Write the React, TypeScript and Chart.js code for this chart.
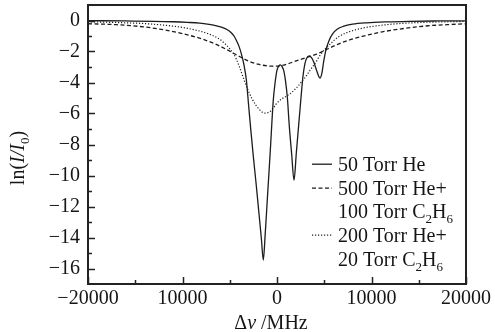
import React, { useEffect, useRef } from "react";
import { Chart, registerables } from "chart.js";

Chart.register(...registerables);

// ---------------- data ----------------
const solidX = [-20000, -16000, -13000, -11000, -9500, -8200, -7200, -6400, -5800, -5300, -4900, -4550, -4250, -4000, -3750, -3500, -3250, -3000, -2750, -2500, -2200, -1900, -1650, -1450, -1250, -1000, -700, -400, -200, 0, 200, 350, 500, 700, 900, 1100, 1300, 1550, 1800, 2050, 2300, 2550, 2750, 2950, 3150, 3400, 3650, 3900, 4150, 4350, 4550, 4750, 4950, 5200, 5500, 5900, 6400, 7000, 8000, 9500, 11500, 14000, 17000, 20000];
const solidY = [-0.01, -0.03, -0.05, -0.08, -0.12, -0.17, -0.25, -0.34, -0.45, -0.58, -0.76, -1.0, -1.35, -1.7, -2.2, -2.85, -3.8, -5.5, -7.2, -8.8, -10.6, -12.5, -14.1, -15.45, -13.8, -11.3, -8.3, -5.2, -4.0, -3.2, -2.92, -2.86, -2.95, -3.2, -3.9, -5.0, -6.8, -8.6, -10.3, -8.5, -6.7, -4.9, -3.6, -2.8, -2.42, -2.28, -2.4, -2.7, -3.15, -3.5, -3.72, -3.4, -2.6, -1.85, -1.3, -0.85, -0.55, -0.38, -0.24, -0.15, -0.09, -0.05, -0.03, -0.02];

const dashedX = [-20000, -17000, -14000, -12000, -10000, -8200, -6600, -5400, -4200, -3000, -2000, -1000, -300, 400, 1200, 2300, 3300, 4200, 5200, 6200, 7300, 9000, 11000, 13000, 16000, 18000, 20000];
const dashedY = [-0.21, -0.27, -0.42, -0.6, -0.85, -1.14, -1.5, -1.85, -2.25, -2.62, -2.82, -2.93, -2.95, -2.92, -2.78, -2.55, -2.35, -2.17, -1.88, -1.6, -1.33, -1.03, -0.75, -0.55, -0.34, -0.27, -0.21];

const dottedX = [-20000, -17000, -13500, -10000, -8200, -7000, -6100, -5500, -5000, -4600, -4300, -4000, -3650, -3300, -2950, -2600, -2250, -1900, -1550, -1300, -1000, -700, -400, -100, 200, 600, 1000, 1400, 1800, 2200, 2600, 3000, 3400, 3800, 4200, 4600, 5000, 5500, 6000, 6600, 7300, 8200, 9000, 10500, 12500, 15000, 17500, 20000];
const dottedY = [-0.08, -0.13, -0.22, -0.45, -0.68, -0.92, -1.2, -1.5, -1.82, -2.15, -2.5, -2.95, -3.55, -4.15, -4.65, -5.1, -5.45, -5.72, -5.92, -5.97, -5.95, -5.85, -5.65, -5.4, -5.2, -5.02, -4.88, -4.72, -4.5, -4.25, -3.95, -3.65, -3.3, -2.95, -2.6, -2.2, -1.9, -1.6, -1.3, -1.02, -0.8, -0.62, -0.5, -0.35, -0.22, -0.13, -0.09, -0.06];

const seriesLabels = ["50 Torr He", "500 Torr He+\n100 Torr C_2H_6", "200 Torr He+\n20 Torr C_2H_6"];

const xTickValues = [-20000, -10000, 0, 10000, 20000];
const xTickLabels = ["\u221220000", "10000", "0", "10000", "20000"];
const xMinorTicks = [-15000, -5000, 5000, 15000];
const yTickValues = [0, -2, -4, -6, -8, -10, -12, -14, -16];
const yTickLabels = ["0", "\u22122", "\u22124", "\u22126", "\u22128", "\u221210", "\u221212", "\u221214", "\u221216"];
const yMinorTicks = [-1, -3, -5, -7, -9, -11, -13, -15];

const X_MIN = -20000;
const X_MAX = 20000;
const Y_MIN = -17;
const Y_MAX = 1;

// ---------------- styling ----------------
const FAMILY = '"Liberation Serif", "DejaVu Serif", serif';
const INK = "#151515";
const LINE = "#1c1c1c";

type Seg = { t: string; italic?: boolean; sub?: boolean };

function parseRich(s: string): Seg[] {
  const out: Seg[] = [];
  let buf = "";
  for (let i = 0; i < s.length; i++) {
    if (s[i] === "_" && i + 1 < s.length) {
      if (buf) out.push({ t: buf });
      buf = "";
      out.push({ t: s[i + 1], sub: true });
      i++;
    } else buf += s[i];
  }
  if (buf) out.push({ t: buf });
  return out;
}

function segFont(seg: Seg) {
  return `${seg.italic ? "italic " : ""}${seg.sub ? 13 : 20}px ${FAMILY}`;
}

function richWidth(ctx: CanvasRenderingContext2D, segs: Seg[]) {
  let w = 0;
  for (const s of segs) {
    ctx.font = segFont(s);
    w += ctx.measureText(s.t).width;
  }
  return w;
}

function drawRich(ctx: CanvasRenderingContext2D, x: number, y: number, segs: Seg[]) {
  let cx = x;
  ctx.textBaseline = "alphabetic";
  ctx.textAlign = "left";
  for (const s of segs) {
    ctx.font = segFont(s);
    ctx.fillText(s.t, cx, y + (s.sub ? 5 : 0));
    cx += ctx.measureText(s.t).width;
  }
}

const decorPlugin = {
  id: "decor",
  afterDraw(chart: any) {
    const ctx: CanvasRenderingContext2D = chart.ctx;
    const { left, right, top, bottom } = chart.chartArea;
    const xs = chart.scales.x;
    const ys = chart.scales.y;
    ctx.save();
    // frame
    ctx.strokeStyle = "#222";
    ctx.lineWidth = 2;
    ctx.strokeRect(left, top, right - left, bottom - top);
    // ticks (inward)
    ctx.lineWidth = 1.5;
    ctx.beginPath();
    for (const v of xTickValues) {
      const p = Math.round(xs.getPixelForValue(v)) + 0.5;
      ctx.moveTo(p, bottom);
      ctx.lineTo(p, bottom - 7);
    }
    for (const v of xMinorTicks) {
      const p = Math.round(xs.getPixelForValue(v)) + 0.5;
      ctx.moveTo(p, bottom);
      ctx.lineTo(p, bottom - 4);
    }
    for (const v of yTickValues) {
      const p = Math.round(ys.getPixelForValue(v)) + 0.5;
      ctx.moveTo(left, p);
      ctx.lineTo(left + 7, p);
    }
    for (const v of yMinorTicks) {
      const p = Math.round(ys.getPixelForValue(v)) + 0.5;
      ctx.moveTo(left, p);
      ctx.lineTo(left + 4, p);
    }
    ctx.stroke();

    ctx.fillStyle = INK;
    // x title
    const xt: Seg[] = [{ t: "\u0394" }, { t: "v", italic: true }, { t: " /MHz" }];
    const xw = richWidth(ctx, xt);
    drawRich(ctx, 271 - xw / 2, 329, xt);
    // y title
    const yt: Seg[] = [{ t: "ln(" }, { t: "I/I", italic: true }, { t: "0", sub: true }, { t: ")" }];
    const yw = richWidth(ctx, yt);
    ctx.save();
    ctx.translate(17, 158);
    ctx.rotate(-Math.PI / 2);
    drawRich(ctx, -yw / 2, 7, yt);
    ctx.restore();

    // legend
    const rowBase = [170.7, 194.7, 218, 241.7, 265.5];
    let row = 0;
    chart.data.datasets.forEach((ds: any, i: number) => {
      const lines = seriesLabels[i].split("\n");
      const ly = rowBase[row] - 6.5;
      ctx.save();
      ctx.strokeStyle = ds.borderColor;
      ctx.lineWidth = ds.borderWidth;
      ctx.setLineDash(ds.borderDash || []);
      ctx.beginPath();
      ctx.moveTo(312, ly);
      ctx.lineTo(332, ly);
      ctx.stroke();
      ctx.restore();
      ctx.fillStyle = INK;
      for (const l of lines) {
        drawRich(ctx, 338, rowBase[row], parseRich(l));
        row++;
      }
    });
    ctx.restore();
  },
};

export default function App() {
  const ref = useRef<HTMLCanvasElement | null>(null);
  useEffect(() => {
    if (!ref.current) return;
    const mk = (xs: number[], ys: number[]) => xs.map((x, i) => ({ x, y: ys[i] }));
    const chart = new Chart(ref.current, {
      type: "line",
      data: {
        datasets: [
          {
            label: seriesLabels[0],
            data: mk(solidX, solidY),
            borderColor: LINE,
            borderWidth: 1.3,
            pointRadius: 0,
            cubicInterpolationMode: "monotone",
            fill: false,
          },
          {
            label: seriesLabels[1],
            data: mk(dashedX, dashedY),
            borderColor: LINE,
            borderWidth: 1.3,
            borderDash: [4, 2.5],
            pointRadius: 0,
            cubicInterpolationMode: "monotone",
            fill: false,
          },
          {
            label: seriesLabels[2],
            data: mk(dottedX, dottedY),
            borderColor: LINE,
            borderWidth: 1.2,
            borderDash: [1.2, 1.8],
            pointRadius: 0,
            cubicInterpolationMode: "monotone",
            fill: false,
          },
        ],
      },
      options: {
        animation: false,
        responsive: false,
        devicePixelRatio: 1,
        layout: { padding: { top: 5, right: 29, left: 0, bottom: 0 } },
        plugins: { legend: { display: false }, tooltip: { enabled: false } },
        scales: {
          x: {
            type: "linear",
            min: X_MIN,
            max: X_MAX,
            grid: { display: false, drawTicks: false },
            border: { display: false },
            afterBuildTicks: (s: any) => {
              s.ticks = xTickValues.map((v) => ({ value: v }));
            },
            afterFit: (s: any) => {
              s.height = 48;
              s.paddingLeft = 0;
              s.paddingRight = 0;
            },
            ticks: {
              autoSkip: false,
              maxRotation: 0,
              padding: 3,
              color: INK,
              font: { family: FAMILY, size: 20 },
              callback: (_v: any, i: number) => xTickLabels[i],
            },
          },
          y: {
            type: "linear",
            min: Y_MIN,
            max: Y_MAX,
            grid: { display: false, drawTicks: false },
            border: { display: false },
            afterBuildTicks: (s: any) => {
              s.ticks = yTickValues.map((v) => ({ value: v }));
            },
            afterFit: (s: any) => {
              s.width = 88;
              s.paddingTop = 0;
              s.paddingBottom = 0;
            },
            ticks: {
              autoSkip: false,
              padding: 8,
              color: INK,
              font: { family: FAMILY, size: 20 },
              callback: (_v: any, i: number) => yTickLabels[i],
            },
          },
        },
      },
      plugins: [decorPlugin],
    } as any);
    return () => chart.destroy();
  }, []);
  return (
    <div style={{ position: "absolute", left: 0, top: 0, width: 495, height: 332, background: "#fff" }}>
      <canvas ref={ref} width={495} height={332} style={{ display: "block", width: 495, height: 332 }} />
    </div>
  );
}
